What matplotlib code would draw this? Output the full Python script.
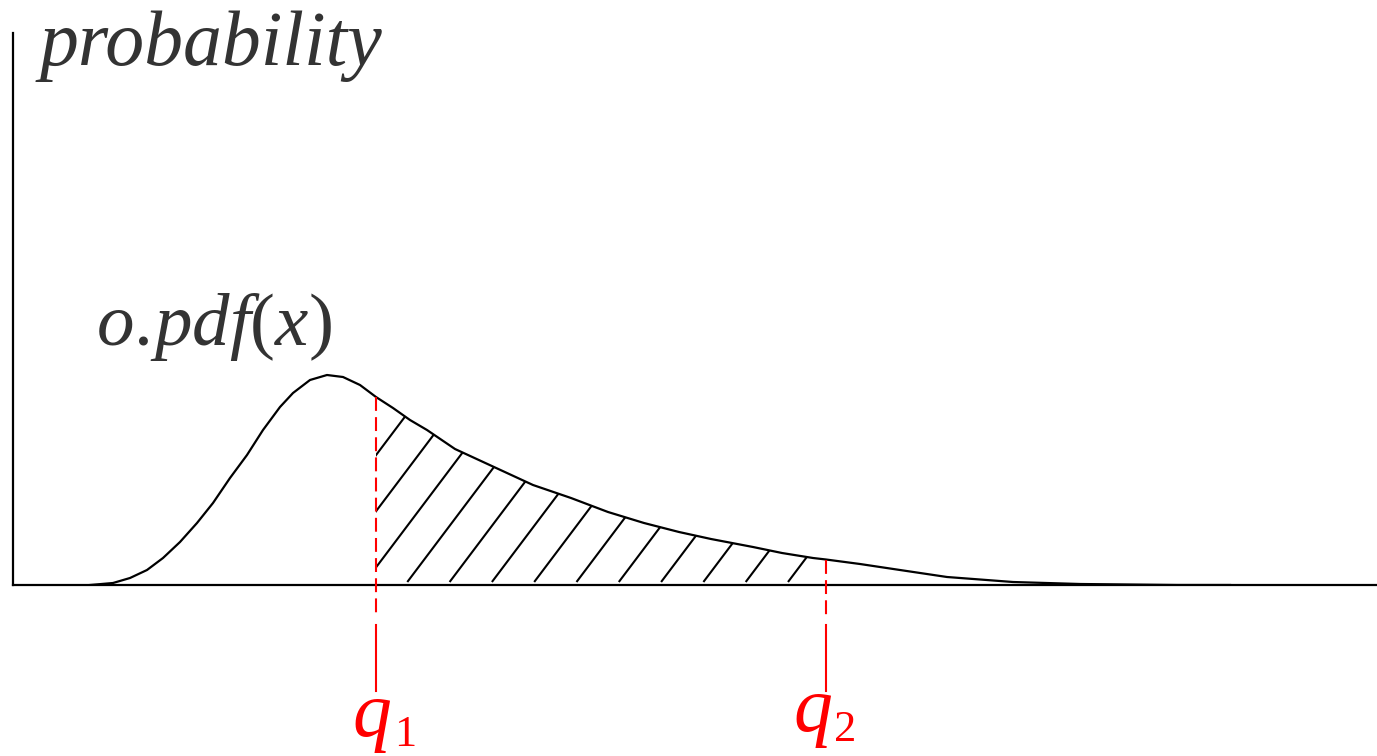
import numpy as np
import matplotlib
matplotlib.use("Agg")
import matplotlib.pyplot as plt
from matplotlib.path import Path

# ---- data ----
x_vals = [0.77, 1.00, 1.17, 1.34, 1.50, 1.67, 1.84, 2.00, 2.17, 2.34, 2.50, 2.67,
          2.80, 2.97, 3.14, 3.30, 3.47, 3.63, 3.80, 3.97, 4.14, 4.42, 4.81, 5.20,
          5.58, 5.95, 6.31, 6.66, 6.98, 7.40, 7.69, 8.00, 8.13, 8.47, 8.87, 9.34,
          10.00, 10.67, 11.64, 12.17]
pdf_vals = [0.000, 0.002, 0.007, 0.015, 0.027, 0.043, 0.062, 0.082, 0.107, 0.130,
            0.155, 0.178, 0.192, 0.205, 0.210, 0.208, 0.200, 0.188, 0.177, 0.165,
            0.155, 0.136, 0.118, 0.100, 0.087, 0.073, 0.062, 0.053, 0.046, 0.038,
            0.032, 0.027, 0.0255, 0.021, 0.015, 0.008, 0.003, 0.001, 0.000, 0.000]
q_positions = [3.63, 8.13]
q_names = ["q", "q"]
q_subs = ["1", "2"]
y_label = "probability"
curve_label = r"$o.\!pdf(x)$"

plt.rcParams['mathtext.fontset'] = 'custom'
plt.rcParams['mathtext.it'] = 'Liberation Serif:italic'
plt.rcParams['mathtext.rm'] = 'Liberation Serif'
plt.rcParams['mathtext.bf'] = 'Liberation Serif:bold'

W, H = 1377, 756
fig = plt.figure(figsize=(W / 100, H / 100), dpi=100)
ax = fig.add_axes([13 / W, (H - 585) / H, (W - 13) / W, (585 - 33) / H])
ax.set_xlim(0, 13.64)
ax.set_ylim(0, 0.552)
for s in ("top", "right"):
    ax.spines[s].set_visible(False)
for s in ("left", "bottom"):
    ax.spines[s].set_linewidth(1.6)
    ax.spines[s].set_color("black")
ax.set_xticks([])
ax.set_yticks([])

x = np.array(x_vals)
y = np.array(pdf_vals)
ax.plot(x, y, color="black", lw=1.6, solid_joinstyle="round", zorder=3)

# hatched region between q1 and q2
q1, q2 = q_positions
mask = (x >= q1 - 1e-9) & (x <= q2 + 1e-9)
xs = x[mask]
ys = y[mask]
verts = list(zip(xs, ys)) + [(q2, 0.0), (q1, 0.0)]
clip = Path(verts + [verts[0]], closed=True)

p0 = ax.transData.transform((0, 0))
p1 = ax.transData.transform((1, 1))
sx, sy = p1[0] - p0[0], p1[1] - p0[1]
ang = np.deg2rad(53)
spacing_px = 42.3
end_px = 788 - 13  # last base intercept in axes px
n_lines = 14
for k in range(n_lines):
    bx = (end_px - k * spacing_px) / sx
    length_px = 300
    dx = length_px * np.cos(ang) / sx
    dy = length_px * np.sin(ang) / sy
    ln, = ax.plot([bx, bx + dx], [0.003, 0.003 + dy], color="black", lw=1.5,
                  solid_capstyle="butt", zorder=2)
    ln.set_clip_path(clip, ax.transData)

# red quantile lines
plt.rcParams['lines.scale_dashes'] = False
for q in q_positions:
    yq = np.interp(q, x, y)
    ax.plot([q, q], [yq, -0.032], color="red", lw=1.5, dashes=(10, 4.5),
            clip_on=False, zorder=4)
    ax.plot([q, q], [-0.040, -0.106], color="red", lw=1.5, clip_on=False, zorder=4)

q_offsets = [(-0.04, 0.18, -0.151, -0.161), (-0.13, 0.08, -0.146, -0.156)]
for q, name, sub, (oq, os_, yb, ysb) in zip(q_positions, q_names, q_subs, q_offsets):
    ax.text(q + oq, yb, name, color="red", fontsize=56, family="Liberation Serif",
            style="italic", ha="center", va="baseline", clip_on=False)
    ax.text(q + os_, ysb, sub, color="red", fontsize=32, family="Liberation Serif",
            ha="left", va="baseline", clip_on=False)

ax.text(0.27, 0.52, y_label, color="#333333", fontsize=56, family="Liberation Serif",
        style="italic", ha="left", va="baseline", clip_on=False)
ax.text(0.83, 0.24, curve_label, color="#333333", fontsize=54, ha="left",
        va="baseline", clip_on=False)

fig.savefig("out.png", dpi=100)
